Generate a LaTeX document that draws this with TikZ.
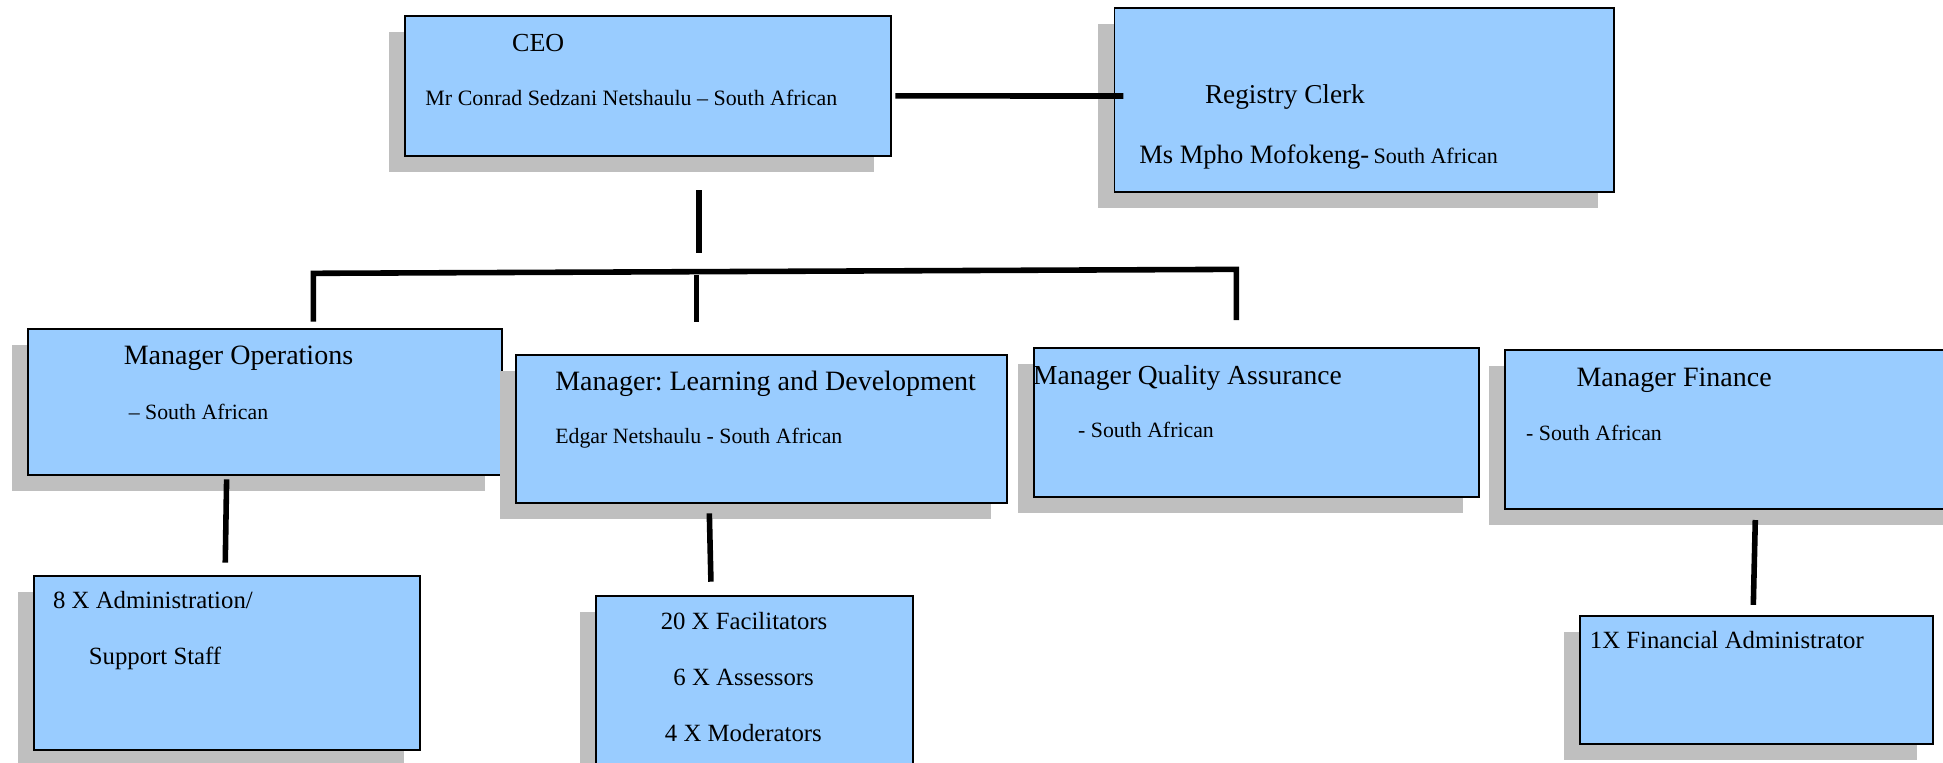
\documentclass[tikz,border=0pt]{standalone}
\usepackage{fontspec}
\setmainfont{Liberation Serif}
\usepackage{tikz}
\usetikzlibrary{shadows}

\definecolor{boxblue}{HTML}{99CCFF}
\definecolor{shadowgray}{HTML}{BFBFBF}

\begin{document}
\frenchspacing
\begin{tikzpicture}[
  x=0.5pt, y=-0.5pt,
  box/.style = {draw, line width=0.8pt, fill=boxblue, anchor=north west, inner sep=0pt,
    drop shadow={shadow xshift=-6.5pt, shadow yshift=-6.5pt, fill=shadowgray, opacity=1}},
  title/.style = {anchor=base west, inner sep=0pt, font=\fontsize{11.3}{13}\selectfont},
  sub/.style = {anchor=base west, inner sep=0pt, font=\fontsize{8.8}{11}\selectfont},
  item/.style = {anchor=base west, inner sep=0pt, font=\fontsize{10}{12}\selectfont},
  link/.style = {line width=2.25pt}
]
  \useasboundingbox (0,0) rectangle (1568.2,615.8);

  % Boxes
  \node[box, minimum width=196pt, minimum height=56.5pt] (ceo) at (326,12) {};
  \node[box, minimum width=201.5pt, minimum height=74.25pt] (reg) at (898.7,5.4) {};
  \node[box, minimum width=191.25pt, minimum height=59.05pt] (ops) at (21.5,264.5) {};
  \node[box, minimum width=198.15pt, minimum height=59.85pt] (ld) at (415.6,285.7) {};
  \node[box, minimum width=179.55pt, minimum height=59.9pt] (qa) at (833.5,280.3) {};
  \node[box, minimum width=185pt, minimum height=63.9pt] (fin) at (1214.2,281.9) {};
  \node[box, minimum width=156pt, minimum height=70.25pt] (admin) at (26.5,464) {};
  \node[box, minimum width=127.8pt, minimum height=75pt] (fac) at (480.2,480.2) {};
  \node[box, minimum width=142.2pt, minimum height=51.8pt] (finadm) at (1274.7,496.3) {};

  % Texts
  \node[title, font=\fontsize{10.5}{12}\selectfont] (ceo_t) at (413,41.7) {CEO};
  \node[sub, font=\fontsize{8.85}{11}\selectfont] (ceo_n) at (343,85.4) {Mr Conrad Sedzani Netshaulu – South African};
  \node[title, font=\fontsize{11}{13}\selectfont] (reg_t) at (972.2,83.9) {Registry Clerk};
  \node[title, font=\fontsize{10.7}{13}\selectfont] (reg_n) at (919.2,132.3)
    {Ms Mpho Mofokeng-\,{\fontsize{8.9}{11}\selectfont South African}};
  \node[title] (ops_t) at (99.5,294.1) {Manager Operations};
  \node[sub] (ops_n) at (103.6,338.5) {– South African};
  \node[title] (ld_t) at (447.8,314.8) {Manager: Learning and Development};
  \node[sub] (ld_n) at (447.8,358.3) {Edgar Netshaulu - South African};
  \node[title, font=\fontsize{11.1}{13}\selectfont] (qa_t) at (833.5,310.2) {Manager Quality Assurance};
  \node[sub] (qa_n) at (869.8,353.2) {- South African};
  \node[title] (fin_t) at (1272,311.9) {Manager Finance};
  \node[sub] (fin_n) at (1231.4,355.6) {- South African};
  \node[item] (admin_a) at (42.5,491) {8 X Administration/};
  \node[item] (admin_b) at (71.3,536.7) {Support Staff};
  \node[item, anchor=base] (fac_a) at (600.5,507.9) {20 X Facilitators};
  \node[item, anchor=base] (fac_b) at (600.2,552.9) {6 X Assessors};
  \node[item, anchor=base] (fac_c) at (600,598.6) {4 X Moderators};
  \node[item] (finadm_t) at (1282.8,523.8) {1X Financial Administrator};

  % Connector ends
  \coordinate (ceo_s1) at (564,153.5);
  \coordinate (ceo_s2) at (564,204.4);
  \coordinate (ceo_r1) at (722.7,77.4);
  \coordinate (ceo_r2) at (906.6,77.5);
  \coordinate (bus_l) at (252.9,220.6);
  \coordinate (bus_r) at (997.8,217.4);
  \coordinate (bus_m) at (562.3,221.9);
  \coordinate (ops_top) at (252.9,259.6);
  \coordinate (ld_top) at (562.3,259.5);
  \coordinate (qa_top) at (997.8,258.3);
  \coordinate (ops_d1) at (182.9,386.9);
  \coordinate (ops_d2) at (181.8,454.1);
  \coordinate (ld_d1) at (572.5,414.3);
  \coordinate (ld_d2) at (573.8,469.5);
  \coordinate (fin_d1) at (1416.7,419.7);
  \coordinate (fin_d2) at (1415.1,488.2);

  % Connectors
  \draw[link] (ceo_s1) -- (ceo_s2);
  \draw[link] (ceo_r1) -- (ceo_r2);
  \draw[link] (ops_top) -- (bus_l) -- (bus_r) -- (qa_top);
  \draw[link] (bus_m) -- (ld_top);
  \draw[link] (ops_d1) -- (ops_d2);
  \draw[link] (ld_d1) -- (ld_d2);
  \draw[link] (fin_d1) -- (fin_d2);

\end{tikzpicture}
\end{document}
